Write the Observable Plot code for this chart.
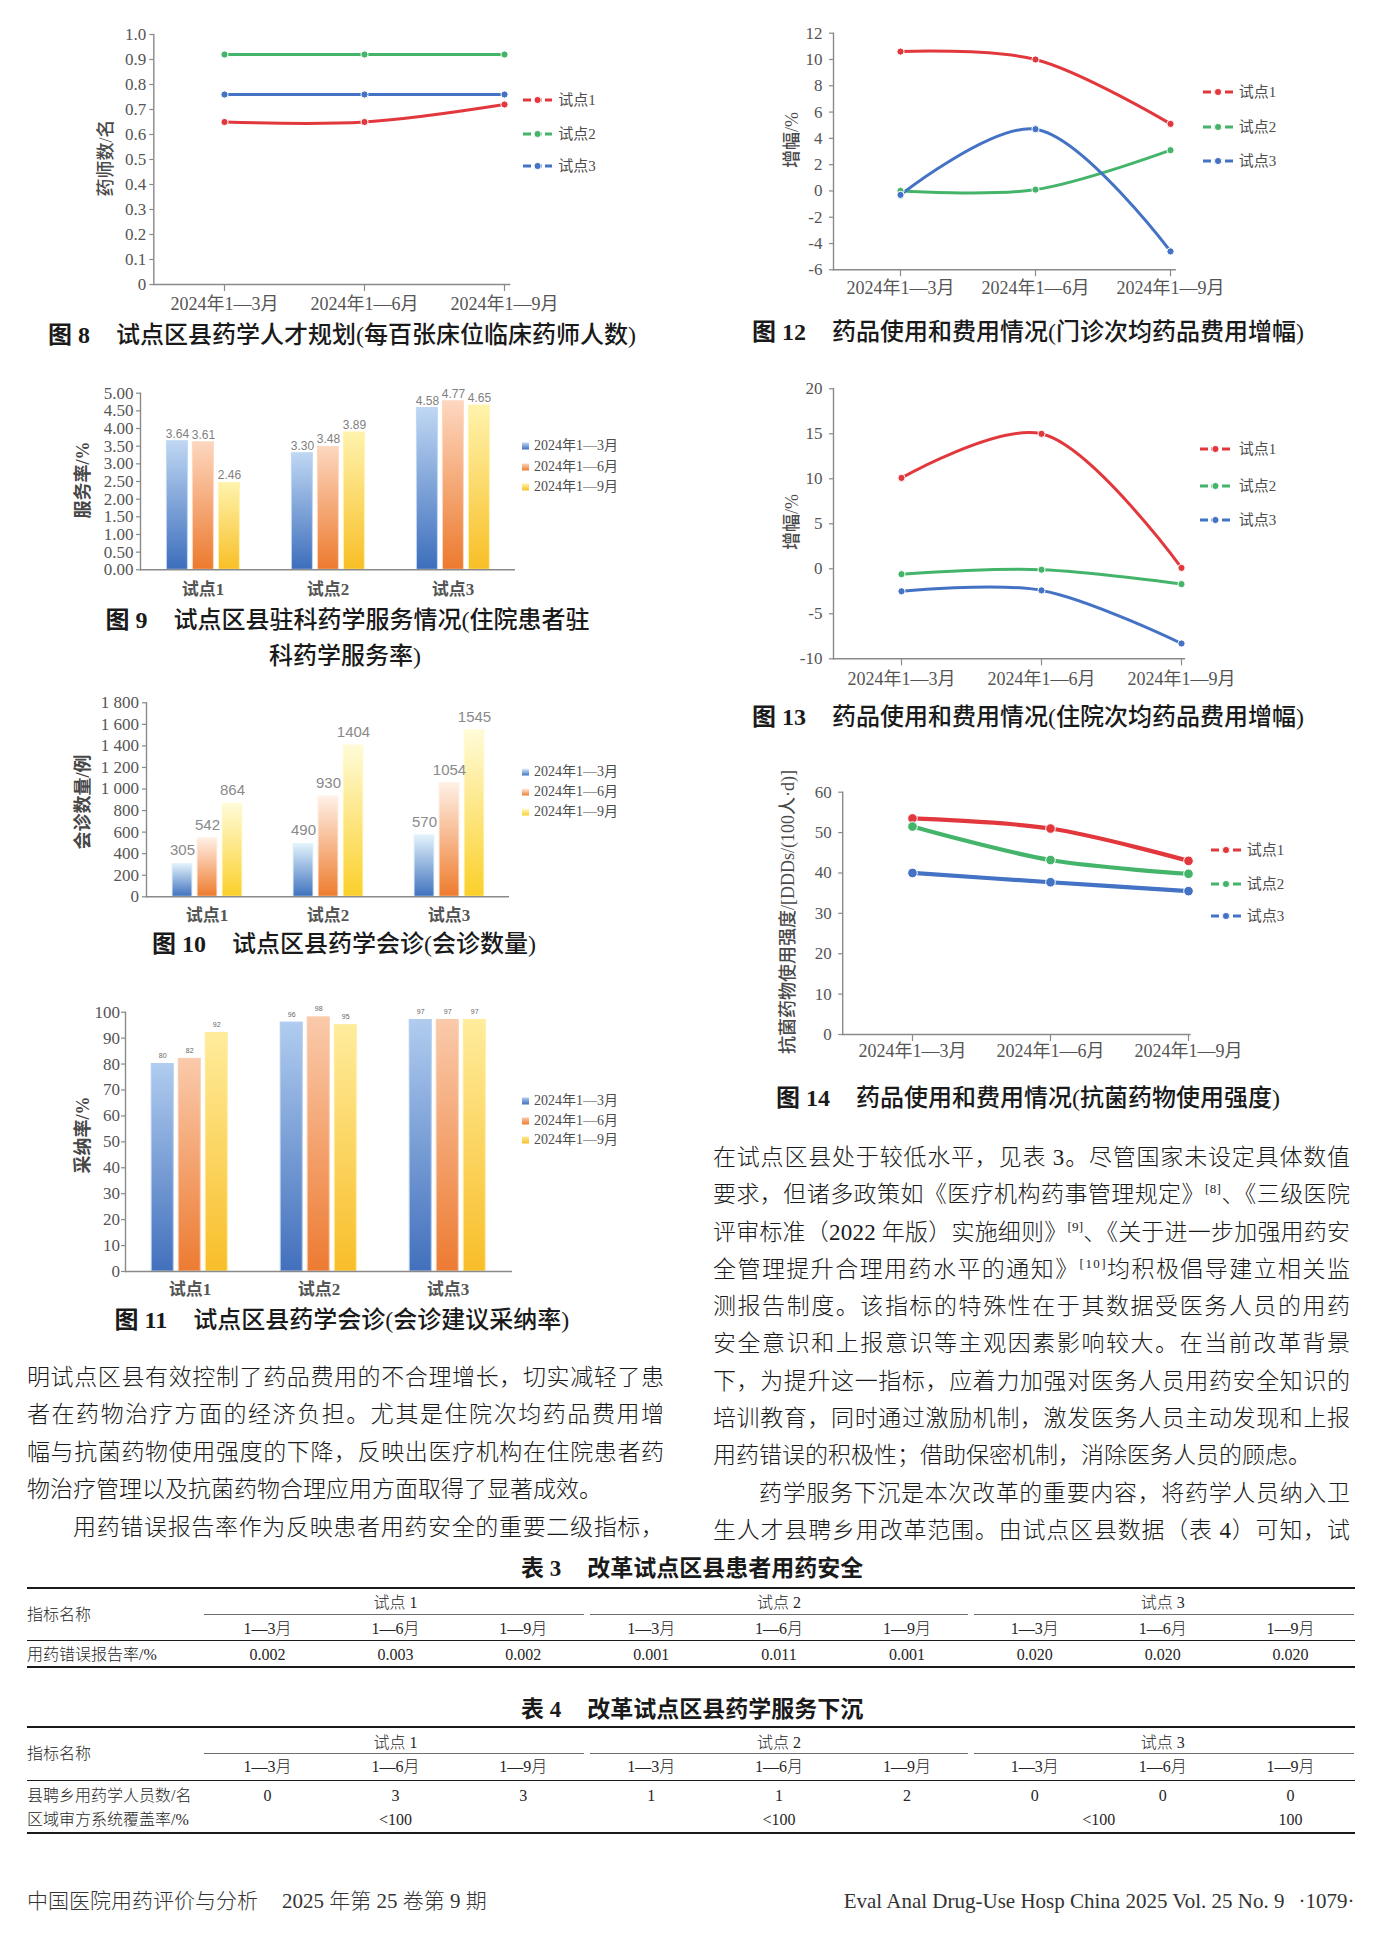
<!DOCTYPE html>
<html lang="zh-CN">
<head>
<meta charset="utf-8">
<title>试点区县药学服务 图8—图14</title>
<script src="https://cdn.jsdelivr.net/npm/d3@7"></script>
<script src="https://cdn.jsdelivr.net/npm/@observablehq/plot@0.6"></script>
<style>
html, body { margin: 0; padding: 0; background: #fff; }
#page { position: relative; width: 1375px; height: 1940px; overflow: hidden; background: #fff; color: #1a1a1a;
  font-family: "Liberation Serif", "Noto Sans CJK SC", serif; }
#page > * { position: absolute; }
.cap { white-space: nowrap; font-size: 24px; line-height: 30px; font-weight: 500; color: #1a1a1a; }
.cap .fn { font-weight: 700; }
.cap .gap { display: inline-block; width: 26px; }
.body { font-size: 23px; line-height: 30px; white-space: nowrap; font-weight: 300; color: #1a1a1a; }
.body sup { font-size: 13px; vertical-align: 9px; line-height: 0; }
.lg { white-space: nowrap; color: #4d4d4d; line-height: 20px; height: 20px; }
.lg svg { vertical-align: top; }
.ylab { white-space: nowrap; line-height: 1; transform: translate(-50%, -50%) rotate(-90deg); }
.tb { white-space: nowrap; font-size: 16px; line-height: 20px; color: #262626; font-weight: 300; }
.tt { white-space: nowrap; font-size: 23px; line-height: 28px; font-weight: 700; color: #1a1a1a; }
.rule { background: #1a1a1a; }
.foot { white-space: nowrap; font-size: 21px; line-height: 26px; color: #333; font-weight: 300; }
</style>
</head>
<body>
<div id="page"></div>
<script>
// ================= DATA =================
const periods = ["2024年1—3月", "2024年1—6月", "2024年1—9月"];
const sites = ["试点1", "试点2", "试点3"];

// 图8 每百张床位临床药师人数 (名)
const fig8Site1 = [0.65, 0.65, 0.72];
const fig8Site2 = [0.92, 0.92, 0.92];
const fig8Site3 = [0.76, 0.76, 0.76];
const fig8Ticks = [0, 0.1, 0.2, 0.3, 0.4, 0.5, 0.6, 0.7, 0.8, 0.9, 1.0];

// 图9 住院患者驻科药学服务率 (%)
const fig9Site1 = [3.64, 3.61, 2.46];
const fig9Site2 = [3.30, 3.48, 3.89];
const fig9Site3 = [4.58, 4.77, 4.65];
const fig9Ticks = [0, 0.5, 1, 1.5, 2, 2.5, 3, 3.5, 4, 4.5, 5];

// 图10 会诊数量 (例)
const fig10Site1 = [305, 542, 864];
const fig10Site2 = [490, 930, 1404];
const fig10Site3 = [570, 1054, 1545];
const fig10Ticks = [0, 200, 400, 600, 800, 1000, 1200, 1400, 1600, 1800];

// 图11 会诊建议采纳率 (%)
const fig11Site1 = [80, 82, 92];
const fig11Site2 = [96, 98, 95];
const fig11Site3 = [97, 97, 97];
const fig11Ticks = [0, 10, 20, 30, 40, 50, 60, 70, 80, 90, 100];

// 图12 门诊次均药品费用增幅 (%)
const fig12Site1 = [10.6, 10.0, 5.1];
const fig12Site2 = [0.0, 0.1, 3.1];
const fig12Site3 = [-0.3, 4.7, -4.6];
const fig12Ticks = [-6, -4, -2, 0, 2, 4, 6, 8, 10, 12];

// 图13 住院次均药品费用增幅 (%)
const fig13Site1 = [10.1, 15.0, 0.1];
const fig13Site2 = [-0.6, -0.1, -1.7];
const fig13Site3 = [-2.5, -2.4, -8.3];
const fig13Ticks = [-10, -5, 0, 5, 10, 15, 20];

// 图14 抗菌药物使用强度 [DDDs/(100人·d)]
const fig14Site1 = [53.5, 51.0, 43.0];
const fig14Site2 = [51.5, 43.2, 39.8];
const fig14Site3 = [40.0, 37.7, 35.5];
const fig14Ticks = [0, 10, 20, 30, 40, 50, 60];

// 表3 / 表4
const tablePeriods = ["1—3月", "1—6月", "1—9月"];
const table3Label = "用药错误报告率/%";
const table3Row = ["0.002", "0.003", "0.002", "0.001", "0.011", "0.001", "0.020", "0.020", "0.020"];
const table4Label1 = "县聘乡用药学人员数/名";
const table4Row1 = ["0", "3", "3", "1", "1", "2", "0", "0", "0"];
const table4Label2 = "区域审方系统覆盖率/%";
const table4Row2 = ["<100", "<100", "<100", "100"];
const table4Row2Spans = [[0, 3], [3, 3], [6, 2], [8, 1]];

// ================= STYLE CONSTANTS =================
const page = document.getElementById("page");
const axisColor = "#8a8a8a";
const tickText = "#555555";
const serifCJK = "'Liberation Serif','Noto Sans CJK SC',serif";
const lineColors = ["#e2383d", "#45b46b", "#4472c4"];
const gradSets = {
  g9: [["#bfd7f3", "#3d6ebc"], ["#fdd7bf", "#ec7a2e"], ["#fff3ad", "#f8bf26"]],
  g10: [["#e3f3fc", "#3f72be"], ["#fff0e6", "#ee7c2e"], ["#fffbd8", "#fbd02a"]],
  g11: [["#b0ccef", "#4270bc"], ["#facaab", "#ed7b32"], ["#ffec9c", "#f8be29"]]
};

// gradient defs
(function () {
  const ns = "http://www.w3.org/2000/svg";
  const svg = document.createElementNS(ns, "svg");
  svg.setAttribute("width", 0); svg.setAttribute("height", 0);
  svg.style.position = "absolute";
  const defs = document.createElementNS(ns, "defs");
  for (const key in gradSets) {
    gradSets[key].forEach((c, i) => {
      const g = document.createElementNS(ns, "linearGradient");
      g.setAttribute("id", key + "_" + i);
      g.setAttribute("x1", 0); g.setAttribute("y1", 0); g.setAttribute("x2", 0); g.setAttribute("y2", 1);
      [[0, c[0]], [1, c[1]]].forEach(([o, col]) => {
        const s = document.createElementNS(ns, "stop");
        s.setAttribute("offset", o); s.setAttribute("stop-color", col);
        g.appendChild(s);
      });
      defs.appendChild(g);
    });
  }
  svg.appendChild(defs);
  document.body.appendChild(svg);
})();

function tidy(arrs) {
  const out = [];
  arrs.forEach((vals, si) => vals.forEach((v, pi) => out.push({site: sites[si], period: periods[pi], value: v})));
  return out;
}
function put(el, left, top) {
  el.style.left = left + "px";
  el.style.top = top + "px";
  page.appendChild(el);
  return el;
}
function div(cls, html) {
  const d = document.createElement("div");
  d.className = cls;
  d.innerHTML = html;
  return d;
}
// rotated axis title, centred on (cx, cy)
function yTitle(text, cx, cy, size, weight, color) {
  const d = div("ylab", "");
  d.textContent = text;
  d.style.fontSize = size + "px";
  d.style.fontWeight = weight;
  d.style.color = color;
  put(d, cx, cy);
}

// ================= LINE CHARTS =================
function lineChart(cfg) {
  const [L, T, W, H] = cfg.box;
  const data = tidy(cfg.series);
  const svg = Plot.plot({
    width: W, height: H,
    marginLeft: cfg.x0 - L, marginRight: L + W - cfg.x1,
    marginTop: cfg.yTop - T, marginBottom: T + H - cfg.yBot,
    style: {background: "transparent", overflow: "visible", fontFamily: serifCJK, maxWidth: "none"},
    x: {type: "point", domain: periods, range: [cfg.p0 - L, cfg.p2 - L], padding: 0},
    y: {domain: cfg.domain},
    color: {domain: sites, range: lineColors},
    marks: [
      Plot.frame({anchor: "left", stroke: axisColor, strokeWidth: 1.4}),
      Plot.frame({anchor: "bottom", stroke: axisColor, strokeWidth: 1.4}),
      Plot.axisY(cfg.ticks, {tickFormat: cfg.fmt, tickSize: 4, tickPadding: cfg.yPad, fontSize: 17,
        fill: tickText, stroke: axisColor, strokeWidth: 1.2, label: null}),
      Plot.axisX(periods, {tickSize: 7, tickPadding: cfg.xPad, fontSize: 18, fill: tickText,
        stroke: axisColor, strokeWidth: 1.2, label: null}),
      Plot.line(data, {x: "period", y: "value", z: "site", stroke: "site", strokeWidth: cfg.sw, curve: "catmull-rom"}),
      Plot.dot(data, {x: "period", y: "value", fill: "site", stroke: "white", strokeWidth: 1, r: cfg.r})
    ]
  });
  put(svg, L, T);
  yTitle(cfg.yLabel, cfg.labelX, cfg.labelY, cfg.labelSize || 18, 500, "#4a4a4a");
}

function lineLegend(sampleL, sampleR, textL, ys) {
  sites.forEach((s, i) => {
    const w = sampleR - sampleL;
    const html = `<svg width="${w}" height="20"><line x1="0" x2="${w}" y1="10" y2="10" stroke="${lineColors[i]}" stroke-width="3" stroke-dasharray="8 3"/>` +
      `<circle cx="${w / 2}" cy="10" r="3.6" fill="${lineColors[i]}" stroke="white" stroke-width="1"/></svg>` +
      `<span style="display:inline-block;width:${textL - sampleR}px"></span>${s}`;
    const d = div("lg", html);
    d.style.fontSize = "15px";
    put(d, sampleL, ys[i] - 10);
  });
}

const simpleFmt = d => String(d);

lineChart({series: [fig8Site1, fig8Site2, fig8Site3], ticks: fig8Ticks, fmt: d => d === 0 ? "0" : d.toFixed(1),
  domain: [0, 1], box: [40, 20, 480, 310], x0: 153.3, x1: 509.2, yTop: 34, yBot: 284, p0: 222.9, p2: 504.2,
  yPad: 3.5, xPad: 6, yLabel: "药师数/名", labelX: 106.3, labelY: 158, sw: 3, r: 3.6});
lineLegend(522.9, 552.1, 558.3, [100, 134, 166]);

lineChart({series: [fig12Site1, fig12Site2, fig12Site3], ticks: fig12Ticks, fmt: simpleFmt,
  domain: [-6, 12], box: [745, 15, 450, 290], x0: 833, x1: 1174.7, yTop: 32.7, yBot: 269.3, p0: 899.5, p2: 1169.9,
  yPad: 7, xPad: 4, yLabel: "增幅/%", labelX: 792, labelY: 140, sw: 3, r: 3.6});
lineLegend(1202.7, 1232.8, 1238.8, [91.7, 127.3, 160.7]);

lineChart({series: [fig13Site1, fig13Site2, fig13Site3], ticks: fig13Ticks, fmt: simpleFmt,
  domain: [-10, 20], box: [745, 375, 450, 320], x0: 833, x1: 1183.9, yTop: 388.3, yBot: 658.3, p0: 901, p2: 1181.9,
  yPad: 7, xPad: 6.5, yLabel: "增幅/%", labelX: 792, labelY: 521.7, sw: 3, r: 3.6});
lineLegend(1199.9, 1230.8, 1238.8, [449.3, 486, 520]);

lineChart({series: [fig14Site1, fig14Site2, fig14Site3], ticks: fig14Ticks, fmt: simpleFmt,
  domain: [0, 60], box: [745, 770, 460, 300], x0: 842.2, x1: 1189.5, yTop: 791.7, yBot: 1034, p0: 911.5, p2: 1188.7,
  yPad: 7, xPad: 2.5, yLabel: "抗菌药物使用强度/[DDDs/(100人·d)]", labelX: 788, labelY: 911.7, labelSize: 18, sw: 4.2, r: 4.8});
lineLegend(1210.8, 1240.8, 1246.8, [850, 884.3, 916]);

// ================= BAR CHARTS =================
function barChart(cfg) {
  const [L, T, W, H] = cfg.box;
  const data = tidy(cfg.series);
  const grads = gradSets[cfg.grad];
  const svg = Plot.plot({
    width: W, height: H,
    marginLeft: cfg.x0 - L, marginRight: L + W - cfg.x1,
    marginTop: cfg.yTop - T, marginBottom: T + H - cfg.yBot,
    style: {background: "transparent", overflow: "visible", fontFamily: serifCJK, maxWidth: "none"},
    fx: {domain: sites, padding: 0, label: null, axis: null},
    x: {domain: periods, paddingInner: 0.2, paddingOuter: 0.96, axis: null},
    y: {domain: cfg.domain},
    marks: [
      ...periods.map((p, i) => Plot.barY(data.filter(d => d.period === p), {
        fx: "site", x: "period", y: "value", fill: `url(#${cfg.grad}_${i})`, stroke: grads[i][0], strokeWidth: 1})),
      Plot.frame({anchor: "left", facetAnchor: "left", stroke: axisColor, strokeWidth: 1.4}),
      Plot.ruleY([0], {stroke: axisColor, strokeWidth: 1.4}),
      Plot.axisY(cfg.ticks, {tickFormat: cfg.fmt, tickSize: 4, tickPadding: cfg.yPad, fontSize: 17,
        fill: tickText, stroke: axisColor, strokeWidth: 1.2, label: null}),
      // group (site) labels under each facet
      Plot.text(sites.map(s => ({site: s})), {fx: "site", text: "site", frameAnchor: "bottom", textAnchor: "middle",
        lineAnchor: "top", dy: cfg.fxPad, fontSize: 17, fontWeight: 700, fill: "#555"}),
      Plot.text(data, {fx: "site", x: "period", y: "value", text: d => cfg.vfmt(d.value), lineAnchor: "bottom",
        dy: cfg.vdy, fontSize: cfg.vsize, fill: cfg.vcolor, fontFamily: "'Liberation Sans', sans-serif"})
    ]
  });
  put(svg, L, T);
  yTitle(cfg.yLabel, cfg.labelX, cfg.labelY, 18, 700, "#474747");
}

function barLegend(grad, ys) {
  periods.forEach((p, i) => {
    const html = `<svg width="7" height="20"><rect x="0" y="6.5" width="7" height="7" fill="url(#${grad}_${i})"/></svg>` +
      `<span style="display:inline-block;width:5px"></span>${p}`;
    const d = div("lg", html);
    d.style.fontSize = "14px";
    put(d, 522, ys[i] - 10);
  });
}

barChart({series: [fig9Site1, fig9Site2, fig9Site3], ticks: fig9Ticks, fmt: d => d.toFixed(2), domain: [0, 5],
  box: [40, 375, 490, 235], x0: 139.6, x1: 515.8, yTop: 392.7, yBot: 569.3, yPad: 3, fxPad: 13.4,
  grad: "g9", vfmt: v => v.toFixed(2), vdy: -3.5, vsize: 12, vcolor: "#7f7f7f",
  yLabel: "服务率/%", labelX: 83.3, labelY: 480});
barLegend("g9", [446, 466.7, 486.7]);

barChart({series: [fig10Site1, fig10Site2, fig10Site3], ticks: fig10Ticks,
  fmt: d => d >= 1000 ? Math.floor(d / 1000) + " " + String(d % 1000).padStart(3, "0") : String(d),
  domain: [0, 1800], box: [40, 690, 490, 240], x0: 145, x1: 509.2, yTop: 702.3, yBot: 896.3, yPad: 3.5, fxPad: 12.4,
  grad: "g10", vfmt: v => String(v), vdy: -8.5, vsize: 15, vcolor: "#8a8a8a",
  yLabel: "会诊数量/例", labelX: 83.3, labelY: 801.7});
barLegend("g10", [771.7, 791.7, 811.7]);

barChart({series: [fig11Site1, fig11Site2, fig11Site3], ticks: fig11Ticks, fmt: simpleFmt, domain: [0, 100],
  box: [40, 995, 490, 305], x0: 123.75, x1: 512.5, yTop: 1011.7, yBot: 1271, yPad: 1.5, fxPad: 11.7,
  grad: "g11", vfmt: v => String(v), vdy: -6, vsize: 7, vcolor: "#666",
  yLabel: "采纳率/%", labelX: 83.3, labelY: 1135});
barLegend("g11", [1101, 1121, 1140.3]);

// ================= CAPTIONS =================
const captions = [
  {n: "8", t: "试点区县药学人才规划(每百张床位临床药师人数)", left: 48, cy: 335},
  {n: "12", t: "药品使用和费用情况(门诊次均药品费用增幅)", left: 752, cy: 331.7},
  {n: "13", t: "药品使用和费用情况(住院次均药品费用增幅)", left: 752, cy: 716.7},
  {n: "10", t: "试点区县药学会诊(会诊数量)", left: 152, cy: 944.3},
  {n: "14", t: "药品使用和费用情况(抗菌药物使用强度)", left: 776, cy: 1098.3},
  {n: "11", t: "试点区县药学会诊(会诊建议采纳率)", left: 114.6, cy: 1320}
];
captions.forEach(c => {
  put(div("cap", `<span class="fn">图 ${c.n}</span><span class="gap"></span>${c.t}`), c.left, c.cy - 15);
});
// 图9 two-line caption, centred
(function () {
  const l1 = div("cap", `<span class="fn">图 9</span><span class="gap"></span>试点区县驻科药学服务情况(住院患者驻`);
  l1.style.width = "600px"; l1.style.textAlign = "center";
  put(l1, 347.5 - 300, 620 - 15);
  const l2 = div("cap", `科药学服务率)`);
  l2.style.width = "600px"; l2.style.textAlign = "center";
  put(l2, 345 - 300, 656 - 15);
})();

// ================= BODY TEXT =================
function textLine(html, left, cy, width, justify, indent) {
  const d = div("body", html);
  const ind = indent ? 46 : 0;
  put(d, left + ind, cy - 15);
  const target = width - ind;
  const w = d.getBoundingClientRect().width;
  if (justify || w > target) {
    const n = d.textContent.length;
    d.style.letterSpacing = ((target - w) / (n - 1)) + "px";
  }
}
const leftLines = [
  ["明试点区县有效控制了药品费用的不合理增长，切实减轻了患", true, false],
  ["者在药物治疗方面的经济负担。尤其是住院次均药品费用增", true, false],
  ["幅与抗菌药物使用强度的下降，反映出医疗机构在住院患者药", true, false],
  ["物治疗管理以及抗菌药物合理应用方面取得了显著成效。", false, false],
  ["用药错误报告率作为反映患者用药安全的重要二级指标，", true, true]
];
leftLines.forEach(([h, j, ind], k) => textLine(h, 27, 1378 + k * 37.4, 637, j, ind));

const rightLines = [
  ["在试点区县处于较低水平，见表 3。尽管国家未设定具体数值", true, false],
  ["要求，但诸多政策如《医疗机构药事管理规定》<sup>[8]</sup>、《三级医院", true, false],
  ["评审标准（2022 年版）实施细则》<sup>[9]</sup>、《关于进一步加强用药安", true, false],
  ["全管理提升合理用药水平的通知》<sup>[10]</sup>均积极倡导建立相关监", true, false],
  ["测报告制度。该指标的特殊性在于其数据受医务人员的用药", true, false],
  ["安全意识和上报意识等主观因素影响较大。在当前改革背景", true, false],
  ["下，为提升这一指标，应着力加强对医务人员用药安全知识的", true, false],
  ["培训教育，同时通过激励机制，激发医务人员主动发现和上报", true, false],
  ["用药错误的积极性；借助保密机制，消除医务人员的顾虑。", false, false],
  ["药学服务下沉是本次改革的重要内容，将药学人员纳入卫", true, true],
  ["生人才县聘乡用改革范围。由试点区县数据（表 4）可知，试", true, false]
];
rightLines.forEach(([h, j, ind], k) => textLine(h, 713, 1158 + k * 37.28, 637, j, ind));

// ================= TABLES =================
const tLeft = 27, tRight = 1354.5, colStart = 203.6;
const colW = (tRight - colStart) / 9;
const colCenter = i => colStart + colW * (i + 0.5);
function hrule(x1, x2, y, h, color) {
  const d = div("rule", "");
  d.style.width = (x2 - x1) + "px"; d.style.height = h + "px";
  if (color) d.style.background = color;
  put(d, x1, y - h / 2);
}
function cellC(text, cx, cy) {
  const d = div("tb", "");
  d.textContent = text;
  d.style.width = "200px"; d.style.textAlign = "center";
  put(d, cx - 100, cy - 10);
}
function cellL(text, x, cy) {
  const d = div("tb", "");
  d.textContent = text;
  put(d, x, cy - 10);
}
function tableHeader(title, num, yTitle, yTop, yGroup, yGroupLine, ySub, yHeadBottom) {
  const t = div("tt", `表 ${num}<span style="display:inline-block;width:26px"></span>${title}`);
  t.style.width = "800px"; t.style.textAlign = "center";
  put(t, 692 - 400, yTitle - 14);
  hrule(tLeft, tRight, yTop, 2.2);
  cellL("指标名称", tLeft, (yTop + yHeadBottom) / 2);
  sites.forEach((s, g) => {
    cellC(s.replace("点", "点 "), colCenter(3 * g + 1), yGroup);
    hrule(colStart + 3 * g * colW + (g > 0 ? 3 : 0), colStart + 3 * (g + 1) * colW - (g < 2 ? 3 : 0), yGroupLine, 1.4, "#6e6e6e");
    tablePeriods.forEach((p, i) => cellC(p, colCenter(3 * g + i), ySub));
  });
  hrule(tLeft, tRight, yHeadBottom, 1.1);
}
// 表3
tableHeader("改革试点区县患者用药安全", 3, 1569.3, 1588.3, 1603.3, 1614.3, 1629, 1640.7);
cellL(table3Label, tLeft, 1655);
table3Row.forEach((v, i) => cellC(v, colCenter(i), 1655));
hrule(tLeft, tRight, 1666.7, 2.2);
// 表4
tableHeader("改革试点区县药学服务下沉", 4, 1710, 1727.3, 1742.7, 1753.3, 1766.7, 1780.7);
cellL(table4Label1, tLeft, 1795.7);
table4Row1.forEach((v, i) => cellC(v, colCenter(i), 1795.7));
cellL(table4Label2, tLeft, 1820);
table4Row2.forEach((v, k) => {
  const [start, span] = table4Row2Spans[k];
  cellC(v, colStart + colW * (start + span / 2), 1820);
});
hrule(tLeft, tRight, 1833.3, 2.2);

// ================= FOOTER =================
put(div("foot", "中国医院用药评价与分析<span style=\"display:inline-block;width:24px\"></span>2025 年第 25 卷第 9 期"), 27, 1900.7 - 13);
(function () {
  const f = div("foot", "Eval Anal Drug-Use Hosp China 2025 Vol. 25 No. 9<span style=\"display:inline-block;width:14px\"></span>·1079·");
  f.style.right = (1375 - 1354.5) + "px";
  f.style.top = (1900.7 - 13) + "px";
  page.appendChild(f);
})();
</script>
</body>
</html>
